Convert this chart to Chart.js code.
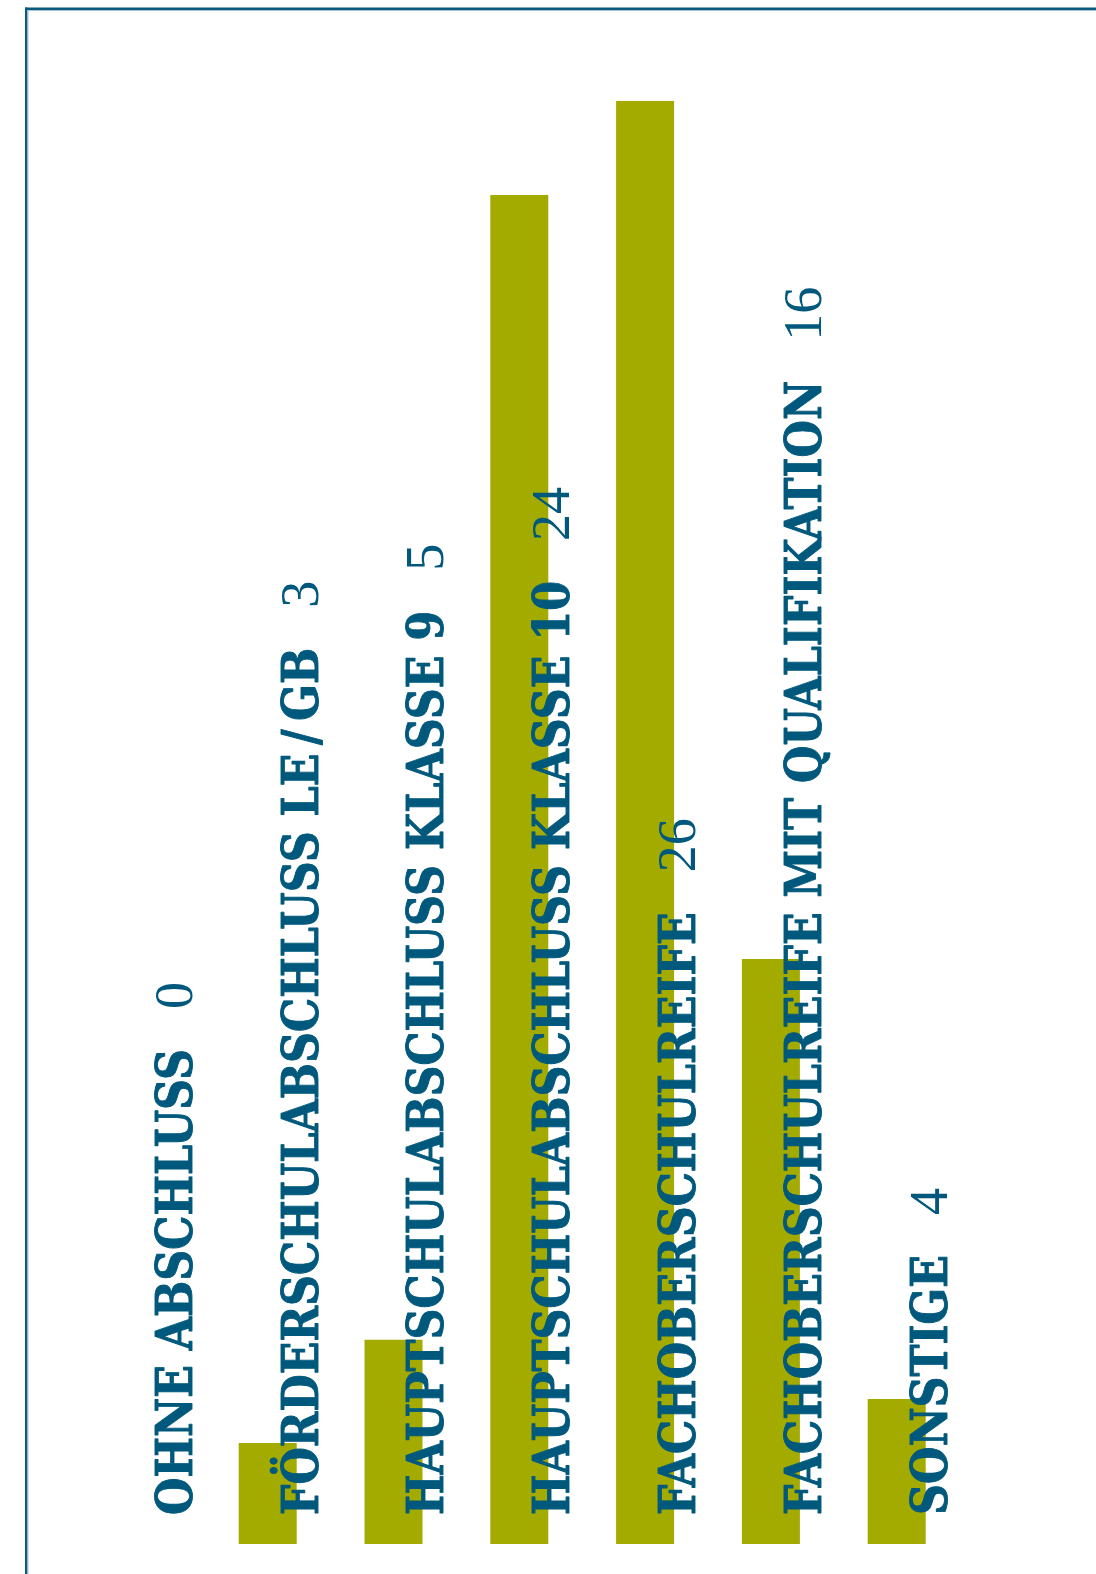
<!DOCTYPE html>
<html>
<head>
<meta charset="utf-8">
<script src="https://cdn.jsdelivr.net/npm/chart.js@4/dist/chart.umd.min.js"></script>
<style>
  html, body { margin: 0; padding: 0; background: #ffffff; }
  #wrap { width: 1096px; height: 1574px; position: relative; }
</style>
</head>
<body>
<div id="wrap"><canvas id="c" width="1096" height="1574"></canvas></div>
<script>
// ---- data ----
const categories = [
  "OHNE ABSCHLUSS",
  "FÖRDERSCHULABSCHLUSS LE\u2009/\u2009GB",
  "HAUPTSCHULABSCHLUSS KLASSE 9",
  "HAUPTSCHULABSCHLUSS KLASSE 10",
  "FACHOBERSCHULREIFE",
  "FACHOBERSCHULREIFE MIT QUALIFIKATION",
  "SONSTIGE"
];
const labelValues = [0, 3, 5, 24, 26, 16, 4];
const barValues = [1.82, 3.68, 24.3, 26, 10.54, 2.61, 0];

// ---- styles ----
const BAR_COLOR = '#a3ab00';
const TEXT_COLOR = '#00597c';
const FRAME_DARK = '#0b5a7e';
const FRAME_LIGHT = '#9fc6da';
const LABEL_FONT = 'bold 50px "DejaVu Serif Condensed", "DejaVu Serif", serif';
const LABEL_SQUEEZE = 0.954;
const VALUE_FONT = '54px "Liberation Serif", serif';

const framePlugin = {
  id: 'frame',
  beforeDraw(chart) {
    const ctx = chart.ctx;
    ctx.save();
    ctx.fillStyle = '#ffffff';
    ctx.fillRect(0, 0, chart.width, chart.height);
    ctx.fillStyle = FRAME_DARK;
    ctx.fillRect(25, 7.5, chart.width - 25, 2.5);
    ctx.fillRect(25, 7.5, 2.5, chart.height - 7.5);
    ctx.fillStyle = FRAME_LIGHT;
    ctx.fillRect(27.5, 10, chart.width - 27.5, 1);
    ctx.fillRect(27.5, 10, 1, chart.height - 10);
    ctx.restore();
  }
};

const labelPlugin = {
  id: 'rotLabels',
  afterDatasetsDraw(chart) {
    const ctx = chart.ctx;
    const xs = chart.scales.x;
    const bottom = chart.chartArea.bottom;
    const startY = bottom - 29;
    ctx.save();
    ctx.fillStyle = TEXT_COLOR;
    ctx.strokeStyle = TEXT_COLOR;
    ctx.textBaseline = 'alphabetic';
    ctx.textAlign = 'left';
    categories.forEach((cat, i) => {
      const bx = xs.getPixelForValue(i) - 76;
      ctx.save();
      ctx.translate(bx, startY);
      ctx.rotate(-Math.PI / 2);
      ctx.font = LABEL_FONT;
      const w = ctx.measureText(cat).width * LABEL_SQUEEZE;
      ctx.save();
      ctx.scale(LABEL_SQUEEZE, 1);
      ctx.lineWidth = 0.9;
      ctx.lineJoin = 'round';
      ctx.fillText(cat, 0, 0);
      ctx.strokeText(cat, 0, 0);
      ctx.restore();
      ctx.font = VALUE_FONT;
      ctx.fillText(String(labelValues[i]), w + 40, 0);
      ctx.restore();
    });
    ctx.restore();
  }
};

new Chart(document.getElementById('c'), {
  type: 'bar',
  data: {
    labels: categories,
    datasets: [{
      data: barValues,
      backgroundColor: BAR_COLOR,
      borderWidth: 0,
      categoryPercentage: 1,
      barPercentage: 58 / 125.8
    }]
  },
  options: {
    responsive: false,
    devicePixelRatio: 1,
    animation: false,
    layout: { padding: { top: 100.7, bottom: 30, left: 204.8, right: 10.6 } },
    plugins: { legend: { display: false }, tooltip: { enabled: false } },
    scales: {
      x: { display: false, offset: true },
      y: { display: false, min: 0, max: 26 }
    }
  },
  plugins: [framePlugin, labelPlugin]
});
</script>
</body>
</html>
